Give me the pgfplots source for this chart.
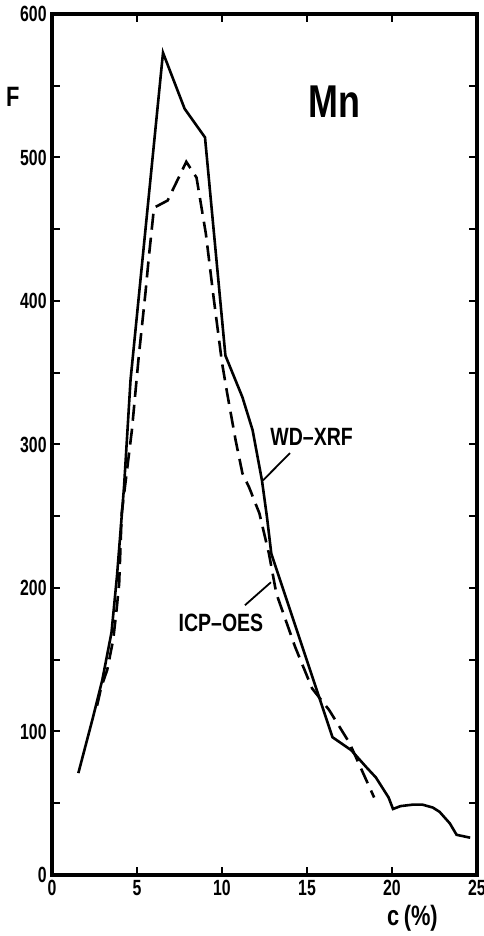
\documentclass[border=0pt]{standalone}
\usepackage{fontspec}
\setmainfont{Liberation Sans}[FakeStretch=0.78]
\newfontfamily\tickfont{Liberation Sans}[FakeStretch=0.72]
\usepackage{pgfplots}
\pgfplotsset{compat=1.18}

\begin{document}
\begin{tikzpicture}
\begin{axis}[
    scale only axis,
    width=212.5pt, height=430.5pt,
    xmin=0, xmax=25, ymin=0, ymax=600,
    xtick={0,5,...,25},
    ytick={0,100,...,600},
    minor ytick={50,150,...,550},
    tick align=inside,
    major tick length=4pt, minor tick length=4pt,
    tick style={line width=1pt, black},
    minor tick style={line width=1pt, black},
    axis line style={line width=1.7pt},
    /pgf/number format/assume math mode=true,
    ticklabel style={font=\tickfont\fontsize{11}{11}\selectfont\bfseries},
    xticklabel style={anchor=north, inner sep=0pt, yshift=-2.5pt},
    yticklabel style={anchor=east, inner sep=0pt, xshift=-2.5pt},
    clip=false,
]
% WD-XRF
\addplot[black, line width=1.3pt, no markers] coordinates {
    (1.55,71) (2.37,108) (2.96,136) (3.5,169) (3.82,208) (4.24,271)
    (4.62,345) (6.53,573) (7.8,534) (9.0,514) (10.2,362) (11.2,333)
    (11.8,310) (12.35,275) (12.65,249) (12.9,224) (16.5,96) (17.6,87)
    (18.5,75) (19.05,68) (19.8,54) (20.06,46) (20.5,48) (21.2,49)
    (21.8,49) (22.4,47) (22.8,44) (23.4,36) (23.8,28) (24.6,26)
};
% ICP-OES
\addplot[black, line width=1.3pt, no markers, dash pattern=on 8pt off 4pt] coordinates {
    (2.65,118) (2.9,131) (3.25,143) (3.6,164) (3.8,185) (3.95,203)
    (4.1,252) (4.7,310) (5.1,361) (5.5,406) (5.7,431) (6.0,465)
    (6.8,470) (7.9,497) (8.5,486) (9.05,447) (9.5,403) (10.0,357)
    (10.3,336) (10.8,303) (11.2,280) (11.6,270) (12.2,252) (12.76,224)
    (13.2,196) (14.3,159) (15.3,130) (16.3,115) (17.5,92) (18.95,54)
};
\draw[line width=0.9pt] (axis cs:14.0,294) -- (axis cs:12.41,275);
\draw[line width=0.9pt] (axis cs:11.35,188) -- (axis cs:12.88,204);
\node[font=\fontsize{12.5}{12.5}\selectfont\bfseries] at (axis cs:15.27,305) {WD--XRF};
\node[font=\fontsize{12.5}{12.5}\selectfont\bfseries] at (axis cs:9.94,176) {ICP--OES};
\node[font=\fontsize{23}{23}\selectfont\bfseries] at (axis cs:16.6,539) {Mn};
\node[font=\fontsize{14}{14}\selectfont\bfseries] at (axis cs:-2.3,542) {F};
\node[font=\fontsize{14}{14}\selectfont\bfseries] at (axis cs:21.2,-30) {c\,(\%)};
\end{axis}
\pgfresetboundingbox
\path[use as bounding box] ([shift={(-26pt,-30.5pt)}]current axis.south west)
    rectangle ([shift={(3.5pt,7pt)}]current axis.north east);
\end{tikzpicture}
\end{document}
